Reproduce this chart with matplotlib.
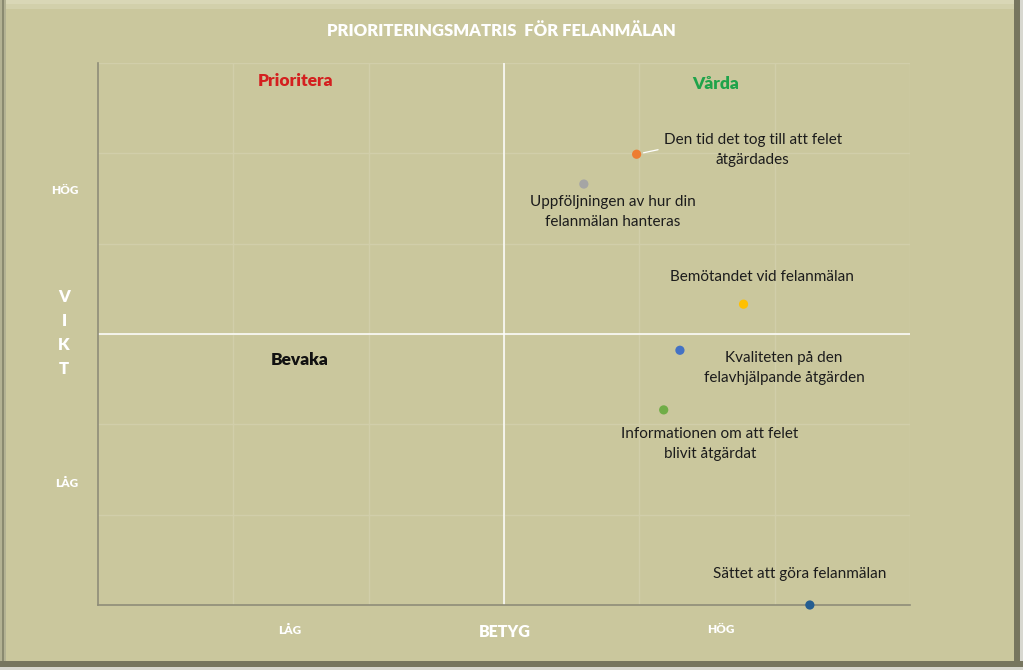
import matplotlib
matplotlib.use("Agg")
import matplotlib.pyplot as plt
from matplotlib.patches import Rectangle

# ---- data ----
categories = [
    "Den tid det tog till att felet\nåtgärdades",
    "Uppföljningen av hur din\nfelanmälan hanteras",
    "Bemötandet vid felanmälan",
    "Kvaliteten på den\nfelavhjälpande åtgärden",
    "Informationen om att felet\nblivit åtgärdat",
    "Sättet att göra felanmälan",
]
betyg = [3.98, 3.59, 4.77, 4.30, 4.18, 5.26]
vikt = [4.99, 4.66, 3.33, 2.82, 2.16, 0.00]
point_colors = ["#ED7D31", "#A5A5A5", "#FFC000", "#4472C4", "#70AD47", "#255E91"]
x_ticklabels = ["LÅG", "HÖG"]
y_ticklabels = ["LÅG", "HÖG"]
quadrants = ["Prioritera", "Vårda", "Bevaka"]

FONT = ["Lato", "DejaVu Sans"]
plt.rcParams["font.family"] = FONT

W, H = 1023, 670
fig = plt.figure(figsize=(W / 100, H / 100), dpi=100)
bg = "#cac79d"
fig.patch.set_facecolor(bg)

def frect(x0, y0, x1, y1, color, z=0):
    # pixel coords (top-left origin) -> figure fraction
    fig.patches.append(Rectangle((x0 / W, 1 - y1 / H), (x1 - x0) / W, (y1 - y0) / H,
                                 transform=fig.transFigure, facecolor=color,
                                 edgecolor="none", zorder=z))

# bevel frame
frect(0, 0, W, 4, "#d9d7b6")
frect(0, 4, W, 9, "#d2d0ab")
frect(0, 0, 6, H, "#b3b293")
frect(2, 0, 4, H, "#8a8a70")
frect(1014, 0, W, H, "#77765f")
frect(1020, 0, W, H, "#d8d8d0")
frect(0, 661, W, H, "#77765f")
frect(0, 667, W, H, "#d8d8d0")

ax = fig.add_axes([98 / W, 1 - 605 / H, (910 - 98) / W, (605 - 63) / H])
ax.set_facecolor("none")
ax.set_xlim(0, 6)
ax.set_ylim(0, 6)

grid_c = "#d1ceaa"
for v in range(1, 7):
    ax.axvline(v, color=grid_c, lw=1, zorder=0)
    ax.axhline(v, color=grid_c, lw=1, zorder=0)
ax.axvline(3, color="white", lw=1.1, zorder=1)
ax.axhline(3, color="white", lw=1.1, zorder=1)

for s in ["top", "right"]:
    ax.spines[s].set_visible(False)
for s in ["left", "bottom"]:
    ax.spines[s].set_color("#8e8d78")
    ax.spines[s].set_linewidth(1.2)

ax.set_xticks([1.42, 4.60], x_ticklabels)
ax.set_yticks([1.36, 4.60], y_ticklabels)
ax.tick_params(length=0, colors="white", labelsize=8.5)
for lab in ax.get_xticklabels() + ax.get_yticklabels():
    lab.set_fontweight("heavy")
ax.tick_params(axis="x", pad=14)
ax.tick_params(axis="y", pad=14)

ax.scatter(betyg, vikt, s=44, c=point_colors, zorder=5, clip_on=False,
           edgecolors="none")

offsets = [(116, 4), (29, -28), (18, 27), (104, -18), (46, -34), (-10, 31)]
for i, (name, x, y) in enumerate(zip(categories, betyg, vikt)):
    kw = {}
    if i == 0:
        kw["arrowprops"] = dict(arrowstyle="-", color="white", lw=0.9,
                                relpos=(0, 0.55), shrinkA=2, shrinkB=5)
    ax.annotate(name, (x, y), xytext=offsets[i], textcoords="offset pixels",
                ha="center", va="center", fontsize=11, color="#1c1c1c",
                linespacing=1.55, zorder=6, **kw)

# quadrant labels
qfs = 12.5
ax.text(1.46, 5.8, quadrants[0], color="#d41f1f", fontsize=qfs,
        fontweight="heavy", ha="center", va="center")
ax.text(4.56, 5.77, quadrants[1], color="#1fa34a", fontsize=qfs,
        fontweight="heavy", ha="center", va="center")
ax.text(1.49, 2.71, quadrants[2], color="#111111", fontsize=qfs,
        fontweight="heavy", ha="center", va="center")

# title & axis titles
fig.text(501 / W, 1 - 31 / H, "PRIORITERINGSMATRIS  FÖR FELANMÄLAN",
         color="white", fontsize=12, fontweight="heavy", ha="center", va="center")
fig.text(505 / W, 1 - 632 / H, "BETYG", color="white", fontsize=11.5,
         fontweight="heavy", ha="center", va="center")
for k, ch in enumerate("VIKT"):
    fig.text(64 / W, 1 - (297 + 24 * k) / H, ch, color="white", fontsize=12,
             fontweight="heavy", ha="center", va="center")

fig.savefig("out.png", dpi=100, facecolor=fig.get_facecolor())
